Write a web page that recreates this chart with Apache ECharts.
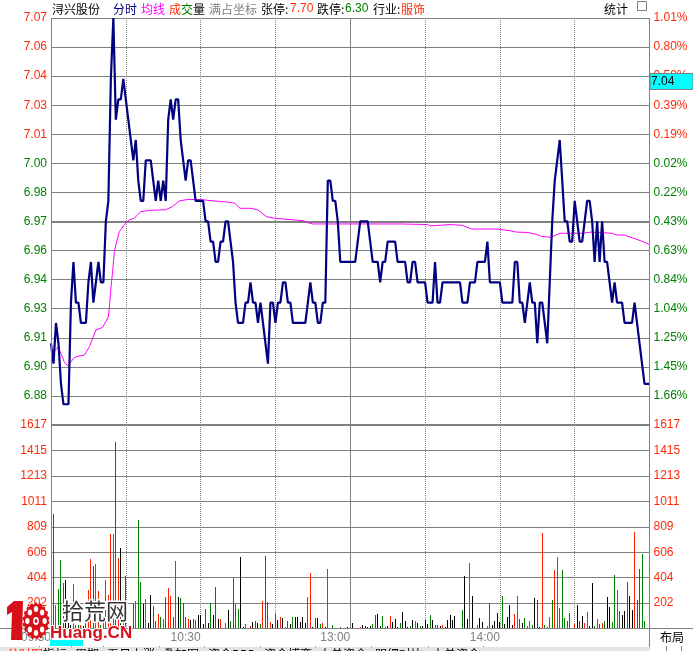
<!DOCTYPE html>
<html><head><meta charset="utf-8">
<style>html,body{margin:0;padding:0;background:#fff}#c{width:693px;height:651px}</style>
<script src="https://cdn.jsdelivr.net/npm/echarts@6/dist/echarts.min.js"></script>
</head><body><div id="c"></div>
<script>
var priceTickLabels=['7.07','7.06','7.04','7.03','7.01','7.00','6.98','6.97','6.96','6.94','6.93','6.91','6.90','6.88',''];
var percentTickLabels=['1.01%','0.80%','0.59%','0.39%','0.19%','0.02%','0.22%','0.43%','0.63%','0.84%','1.04%','1.25%','1.45%','1.66%',''];
var volumeTickLabels=['1617','1415','1213','1011','809','606','404','202',''];
var timeTickLabels=['09:30','','10:30','','13:00','','14:00','',''];
var prices=[
6.91,6.90,6.92,6.91,6.89,6.88,6.88,6.88,6.93,6.95,
6.93,6.93,6.92,6.92,6.92,6.94,6.95,6.93,6.94,6.95,
6.94,6.94,6.97,6.98,7.04,7.07,7.02,7.03,7.03,7.04,
7.03,7.02,7.01,7.00,7.01,6.99,6.98,6.98,7.00,7.00,
7.00,6.99,6.98,6.99,6.98,6.99,6.98,7.02,7.03,7.02,
7.03,7.03,7.01,7.00,6.99,7.00,7.00,6.99,6.98,6.98,
6.98,6.98,6.97,6.97,6.96,6.96,6.95,6.95,6.96,6.96,
6.97,6.97,6.96,6.95,6.93,6.92,6.92,6.92,6.93,6.93,
6.94,6.93,6.93,6.92,6.93,6.92,6.91,6.90,6.93,6.93,
6.92,6.93,6.93,6.94,6.94,6.93,6.93,6.92,6.92,6.92,
6.92,6.92,6.92,6.93,6.94,6.93,6.93,6.92,6.92,6.93,
6.93,6.99,6.99,6.98,6.98,6.97,6.95,6.95,6.95,6.95,
6.95,6.95,6.95,6.96,6.97,6.97,6.97,6.97,6.96,6.95,
6.95,6.95,6.94,6.95,6.95,6.96,6.96,6.96,6.96,6.95,
6.95,6.95,6.95,6.94,6.94,6.95,6.95,6.94,6.94,6.94,
6.94,6.93,6.93,6.93,6.95,6.93,6.93,6.94,6.94,6.94,
6.94,6.94,6.94,6.94,6.94,6.93,6.93,6.93,6.94,6.94,
6.94,6.95,6.95,6.95,6.95,6.96,6.94,6.94,6.94,6.94,
6.94,6.93,6.93,6.93,6.93,6.93,6.95,6.95,6.93,6.93,
6.92,6.93,6.94,6.93,6.93,6.91,6.93,6.93,6.92,6.91,
6.94,6.97,6.99,7.00,7.01,6.99,6.97,6.97,6.96,6.96,
6.98,6.97,6.96,6.96,6.97,6.98,6.98,6.97,6.95,6.97,
6.95,6.97,6.95,6.95,6.94,6.93,6.94,6.93,6.93,6.93,
6.92,6.92,6.92,6.92,6.93,6.92,6.91,6.90,6.89,6.89,6.89];
var avgMinutes=[0,1.3,2.9,4,5.3,6.7,8,9.3,11.3,13.4,15.4,16.7,18,20.7,23,23.5,24,24.7,25.4,26,27.4,29.4,31.4,33.4,36,40,46,48.7,51.4,54.7,60,65.4,71.4,73.7,75.8,80,83,86.4,89.7,97,101,103,105,140,151,152,160,165,168.6,179,184,186.6,191,194.6,196.6,200.6,204,213,216.6,225,226.6,230,233.3,237.3,240];
var avgPrices=[6.9058,6.9061,6.9083,6.9050,6.9009,6.8989,6.9009,6.9030,6.9037,6.9042,6.9083,6.9124,6.9165,6.9178,6.9230,6.9288,6.9370,6.9452,6.9551,6.9583,6.9649,6.9682,6.9707,6.9715,6.9748,6.9754,6.9757,6.9772,6.9800,6.9807,6.9807,6.9800,6.9794,6.9789,6.9764,6.9764,6.9756,6.9723,6.9715,6.9707,6.9703,6.9693,6.9687,6.9687,6.9684,6.9677,6.9684,6.9680,6.9662,6.9662,6.9654,6.9647,6.9645,6.9636,6.9626,6.9621,6.9641,6.9641,6.9647,6.9641,6.9633,6.9632,6.9618,6.9600,6.9586];
var volumes=[
0,909,186,313,543,358,384,40,30,352,
30,25,30,20,40,305,551,496,511,297,
30,40,384,265,750,750,1481,559,639,60,
416,30,0,191,217,861,368,193,233,42,
265,178,58,114,90,74,249,321,257,90,
535,249,241,201,90,74,66,74,66,106,
106,34,154,42,201,106,329,74,74,0,
42,146,58,400,193,154,567,10,34,0,
18,50,58,42,34,217,575,209,50,34,
114,66,90,82,10,58,34,90,90,90,
50,90,42,249,440,10,82,82,34,42,
10,472,0,26,0,0,10,0,0,10,
0,42,0,0,10,26,18,10,18,34,
106,114,18,98,10,18,98,50,74,10,
42,130,58,10,18,66,58,42,18,18,
66,34,106,66,26,26,18,26,10,66,
106,66,98,0,0,146,416,74,519,257,
0,26,82,50,0,18,201,26,58,122,
50,257,34,90,186,26,114,257,74,42,
82,18,58,26,241,225,10,758,26,10,
90,225,464,567,162,464,82,58,122,0,
34,186,58,98,42,130,18,360,18,74,
34,42,58,249,170,50,424,305,138,106,
138,368,257,146,766,225,472,591,58,0,639];
var volumeKinds=[
'KGRGGGKKKR','GGRKRRRGRR','GRRRRRGRKR','GKKGRGGKRK','KGGRGRGRRG','RKGGGRKGGK',
'KKGKGKGKRK','RKGGGGKKRK','RKGKGRGGRK','GKRKRGKGKK','KKKRRKGKGR','KRKGKKGKKK',
'KKKKRKKKKG','GKKGRKRKKK','GKKKGKRKGK','KKGKRGKRKK','KKKKKGKKRK','KRKKKRGKKK',
'KGKKKKRRGK','GRRGKGKRGG','RGRRRGGGGK','RKGKRRKKGR','GRGKKGGRGK','KGKKRGGGGK','K'].join('');
var heavyPriceLine=6.97;

var RED='#ff2a0a',GREEN='#008000',GRID='#808080',NAVY='#000080',MAG='#ff00ff';
var kindColor={R:'#ff2000',G:'#008000',K:'#000000'};
var priceStep=0.0143,priceMax=7.07,priceMin=6.8698;
var volMax=1617,volStep=1617/8;
var LAT='Liberation Sans, Arial, sans-serif',CJK='"Noto Sans CJK SC", sans-serif';
function pIdx(v){return 14-Math.round((v-priceMin)/priceStep);}
function vIdx(v){return 8-Math.round(v/volStep);}
function priceAxis(labels,pos){
  return {type:'value',gridIndex:0,position:pos,min:priceMin,max:priceMax,interval:priceStep,scale:true,
    axisLine:{show:false},axisTick:{show:false},
    splitLine:{show:pos==='left',lineStyle:{color:GRID,width:1}},
    axisLabel:{margin:4,fontFamily:LAT,fontSize:12,hideOverlap:false,verticalAlign:'middle',
      verticalAlignMaxLabel:'middle',verticalAlignMinLabel:'middle',padding:[2,0,0,0],
      showMinLabel:true,showMaxLabel:true,
      formatter:function(v){return labels[pIdx(v)];},
      color:function(v){return pIdx(v)<=4?RED:GREEN;}}};
}
function volAxis(pos){
  return {type:'value',gridIndex:1,position:pos,min:0,max:volMax,interval:volStep,
    axisLine:{show:false},axisTick:{show:false},
    splitLine:{show:pos==='left',lineStyle:{color:GRID,width:1}},
    axisLabel:{margin:4,fontFamily:LAT,fontSize:12,color:RED,hideOverlap:false,showMinLabel:true,showMaxLabel:true,
      verticalAlign:'middle',verticalAlignMaxLabel:'middle',verticalAlignMinLabel:'middle',padding:[2,0,0,0],
      formatter:function(v){return volumeTickLabels[vIdx(v)];}}};
}
function timeAxis(g,step,type,labels){
  return {type:'value',gridIndex:g,min:0,max:240,interval:step,position:'bottom',
    axisLine:{show:false},axisTick:{show:false},
    splitLine:{show:true,lineStyle:{color:GRID,width:1,type:type}},
    axisLabel:labels?{show:true,margin:3,align:'right',fontFamily:LAT,fontSize:12,color:'#808080',hideOverlap:false,
      showMinLabel:true,formatter:function(v){return timeTickLabels[Math.round(v/30)];}}:{show:false}};
}
function T(x,y,s,fill,font,extra){
  var st={text:s,x:x,y:y,fill:fill,font:font||('12px '+CJK),textVerticalAlign:'middle'};
  if(extra)for(var k in extra)st[k]=extra[k];
  return {type:'text',z:50,silent:true,style:st};
}
function L(x1,y1,x2,y2,c,w){return {type:'line',z:5,silent:true,shape:{x1:x1,y1:y1,x2:x2,y2:y2},style:{stroke:c,lineWidth:w||1}};}
function R(x,y,w,h,f,s){return {type:'rect',z:45,silent:true,shape:{x:x,y:y,width:w,height:h},style:{fill:f,stroke:s||null}};}
var LOGO='#d8101a';
function hole(cx,cy,r){return {type:'circle',z:52,shape:{cx:cx,cy:cy,r:r},style:{fill:'#fff'}};}
var gfx=[
 L(51.5,18,51.5,640,GRID),L(649.5,18,649.5,651,GRID),L(0,628.5,693,628.5,GRID),
 T(52,9,'浔兴股份','#000'),T(113,9,'分时',NAVY),T(141,9,'均线',MAG),
 T(169,9,'成',RED),T(181,9,'交',GREEN),T(193,9,'量','#000'),T(209,9,'满占坐标','#808080'),
 T(261,9,'张停:','#000'),T(290,9,'7.70',RED,'12px '+LAT),T(317,9,'跌停:','#000'),T(345,9,'6.30',GREEN,'12px '+LAT),
 T(373,9,'行业:','#000'),T(401,9,'服饰',RED),T(604,9,'统计','#000'),
 {type:'rect',z:50,silent:true,shape:{x:637.5,y:1.5,width:9,height:9},style:{fill:'#fff',stroke:GRID}},L(642,2,642,10,GRID),
 R(650,73.5,43,16,'#00ffff',GRID),T(651,82,'7.04','#000','12px '+LAT),
 T(660,637,'布局','#000','12px '+CJK),
 R(0,647,650,5,'#e4e4e4'),
 T(7,654,'分时图',RED),T(43,654,'指标','#000'),T(75,654,'周期','#000'),T(107,654,'五日上涨','#000'),T(163,654,'叠加图','#000'),
 T(208,654,'资金BBD','#000'),T(264,654,'资金博弈','#000'),T(319,654,'大单资金','#000'),T(375,654,'明细对比','#000'),T(432,654,'大单资金','#000'),
 L(39.5,646,39.5,651,GRID),L(71.5,646,71.5,651,GRID),L(103.5,646,103.5,651,GRID),L(159.5,646,159.5,651,GRID),L(204.5,646,204.5,651,GRID),L(260.5,646,260.5,651,GRID),L(315.5,646,315.5,651,GRID),L(371.5,646,371.5,651,GRID),L(428.5,646,428.5,651,GRID),L(483.5,646,483.5,651,GRID),L(666.5,646,666.5,651,GRID),L(681.5,646,681.5,651,GRID),
 R(50,640,33,6,'#00ffff'),
 {type:'polygon',z:51,silent:true,shape:{points:[[7,607],[14,601],[23,601],[22,640],[11,640],[12,612],[7,615]]},style:{fill:LOGO}},
 {type:'group',x:36,y:621,scaleX:0.72,silent:true,children:[
  {type:'circle',z:51,shape:{cx:0,cy:0,r:17},style:{fill:LOGO,stroke:LOGO,lineWidth:3,lineDash:[3,3]}},
  hole(0,0,4),{type:'circle',z:53,shape:{cx:0,cy:0,r:2},style:{fill:LOGO}},
  hole(0,-12,3),hole(0,12,3),hole(-12,0,3),hole(12,0,3),hole(-8.5,-8.5,3),hole(8.5,-8.5,3),hole(-8.5,8.5,3),hole(8.5,8.5,3)]},
 T(62,611,'拾荒网','#333','22px '+CJK,{stroke:'#fff',lineWidth:3}),
 T(50,633,'Huang.CN',LOGO,'bold 17px '+LAT,{stroke:'#fff',lineWidth:2})
];
function renderVolumeBar(params,api){
  var v=api.value(1);
  if(!v)return null;
  var top=api.coord([api.value(0),v]),base=api.coord([api.value(0),0]);
  var yT=Math.round(top[1]),yB=Math.round(base[1]);
  return {type:'rect',shape:{x:Math.floor(base[0]),y:yT,width:1,height:yB-yT},
    style:{fill:kindColor[volumeKinds.charAt(params.dataIndex)]}};
}
var chart=echarts.init(document.getElementById('c'),null,{renderer:'canvas'});
chart.setOption({
 animation:false,backgroundColor:'#fff',
 grid:[{left:51,right:43.5,top:18,height:407},{left:51,right:43.5,top:425,height:203.5}],
 xAxis:[
  timeAxis(0,30,'dotted',false),timeAxis(0,120,'solid',false),
  timeAxis(1,30,'dotted',true),timeAxis(1,120,'solid',false)],
 yAxis:[priceAxis(priceTickLabels,'left'),priceAxis(percentTickLabels,'right'),volAxis('left'),volAxis('right')],
 series:[
  {type:'line',name:'均线',xAxisIndex:0,yAxisIndex:0,symbol:'none',z:3,clip:false,
   lineStyle:{color:MAG,width:1},
   data:avgMinutes.map(function(m,i){return [m,avgPrices[i]];}),
   markLine:{silent:true,symbol:'none',label:{show:false},z:2,lineStyle:{color:GRID,width:2,type:'solid'},data:[{yAxis:heavyPriceLine}]}},
  {type:'line',name:'分时',xAxisIndex:0,yAxisIndex:0,symbol:'none',z:4,clip:false,
   lineStyle:{color:NAVY,width:2.2},
   data:prices.map(function(p,i){return [i,p];})},
  {type:'custom',name:'成交量',xAxisIndex:2,yAxisIndex:2,z:3,clip:false,renderItem:renderVolumeBar,
   encode:{x:0,y:1},
   data:volumes.map(function(v,i){return [i,v];})},
  {type:'line',xAxisIndex:2,yAxisIndex:2,symbol:'none',data:[],
   markLine:{silent:true,symbol:'none',label:{show:false},lineStyle:{color:GRID,width:2,type:'solid'},data:[{yAxis:volMax}]}}
 ],
 graphic:gfx
});
</script></body></html>
